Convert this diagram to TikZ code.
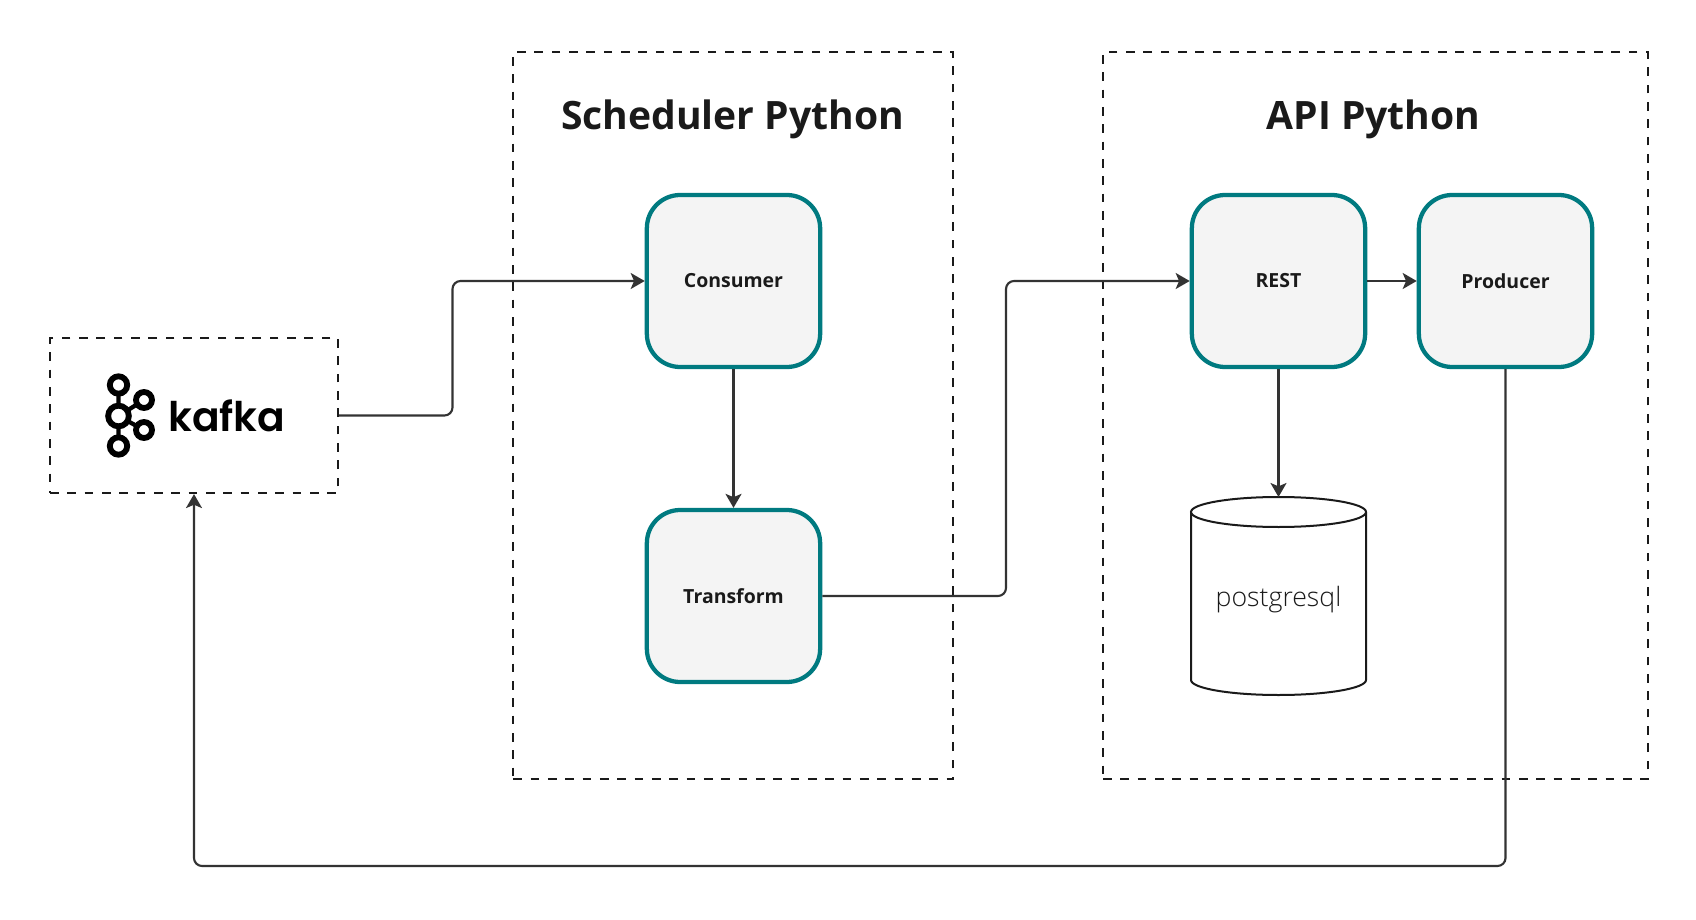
\documentclass[tikz,border=0pt]{standalone}
\usepackage{fontspec}
\setmainfont{Open Sans}
\newfontfamily\logofont{Poppins SemiBold}
\newfontfamily\lightfont{Open Sans Light}
\usetikzlibrary{arrows.meta}
\definecolor{tealc}{HTML}{007A80}
\definecolor{boxfill}{HTML}{F4F4F4}
\definecolor{inkc}{HTML}{333333}
\definecolor{titlec}{HTML}{1A1A1A}
\tikzset{
  group/.style={draw=titlec,line width=1.6pt,dash pattern=on 6.5pt off 6.5pt,minimum width=#1},
  svc/.style={draw=tealc,fill=boxfill,line width=3.2pt,rounded corners=25pt,minimum width=130pt,minimum height=129pt,text=titlec,font=\fontsize{14.6pt}{17pt}\selectfont\bfseries},
  conn/.style={draw=inkc,line width=1.6pt,rounded corners=6pt,-{Stealth[length=10.5pt,width=12pt,inset=2.5pt]}},
  grouptitle/.style={text=titlec,font=\fontsize{29.3pt}{34pt}\selectfont\bfseries},
  logoring/.style={draw=black,line width=4.4pt,fill=white,circle,inner sep=0pt,minimum size=#1},
  logolink/.style={draw=black,line width=3.2pt},
}
\begin{document}
\begin{tikzpicture}[x=0.75pt,y=-0.75pt]
\useasboundingbox (0,0) rectangle (1696,920);
% groups
\node[group=216pt,minimum height=116.25pt] (kafkabox) at (194,415.5) {};
\node[group=330pt,minimum height=545.25pt] (sched) at (733.2,415.5) {};
\node[group=408.75pt,minimum height=545.25pt] (api) at (1375.5,415.5) {};
\node[grouptitle] (schedtitle) at (732.5,119) {Scheduler Python};
\node[grouptitle] (apititle) at (1373.5,119) {API Python};
% services
\node[svc] (consumer) at (733.5,281) {\raisebox{-0.8pt}{Consumer}};
\node[svc] (transform) at (733.5,596) {Transform};
\node[svc] (rest) at (1278.5,281) {\raisebox{-0.8pt}{REST}};
\node[svc] (producer) at (1505.5,281) {Producer};
% database
\node[minimum width=131.25pt,minimum height=148.5pt,inner sep=0pt,outer sep=0pt] (pg) at (1278.5,596) {};
\draw[draw=titlec,line width=1.5pt,fill=white] (1191,512) -- (1191,680) arc[x radius=87.5,y radius=15,start angle=180,end angle=0,y=-0.75pt] -- (1366,512);
\draw[draw=titlec,line width=1.5pt,fill=white] (1278.5,512) ellipse[x radius=87.5,y radius=15];
\node[text=titlec,font=\lightfont\fontsize{20pt}{24pt}\selectfont] (pglabel) at (1278.5,600) {postgresql};
% kafka logo
\coordinate (lc) at (118.5,416);
\coordinate (lt) at (118.5,385);
\coordinate (lb) at (118.5,446);
\coordinate (lu) at (144,400);
\coordinate (ld) at (144,430);
\draw[logolink] (lt) -- (lb) (lu) -- (lc) -- (ld);
\node[logoring=13pt] (r1) at (lt) {};
\node[logoring=13pt] (r2) at (lb) {};
\node[logoring=12pt] (r3) at (lu) {};
\node[logoring=12pt] (r4) at (ld) {};
\node[logoring=15.5pt] (r5) at (lc) {};
\node[anchor=base west,inner sep=0pt,font=\logofont\fontsize{30.6pt}{36pt}\selectfont,text=black] (kafkalabel) at (168,431) {kafka};
% connectors
\coordinate (b1) at (452.5,415.5);
\coordinate (b2) at (1006,596);
\coordinate (b3) at (194,866);
\coordinate (b4) at (1505.5,866);
\draw[conn] (kafkabox.east) -- (b1) -- (b1 |- consumer.west) -- (consumer.west);
\draw[conn] (consumer.south) -- (transform.north);
\draw[conn] (transform.east) -- (b2) -- (b2 |- rest.west) -- (rest.west);
\draw[conn] (rest.east) -- (producer.west);
\draw[conn] (rest.south) -- (pg.north);
\draw[conn] (producer.south) -- (b4) -- (b3) -- (kafkabox.south);
\end{tikzpicture}
\end{document}
